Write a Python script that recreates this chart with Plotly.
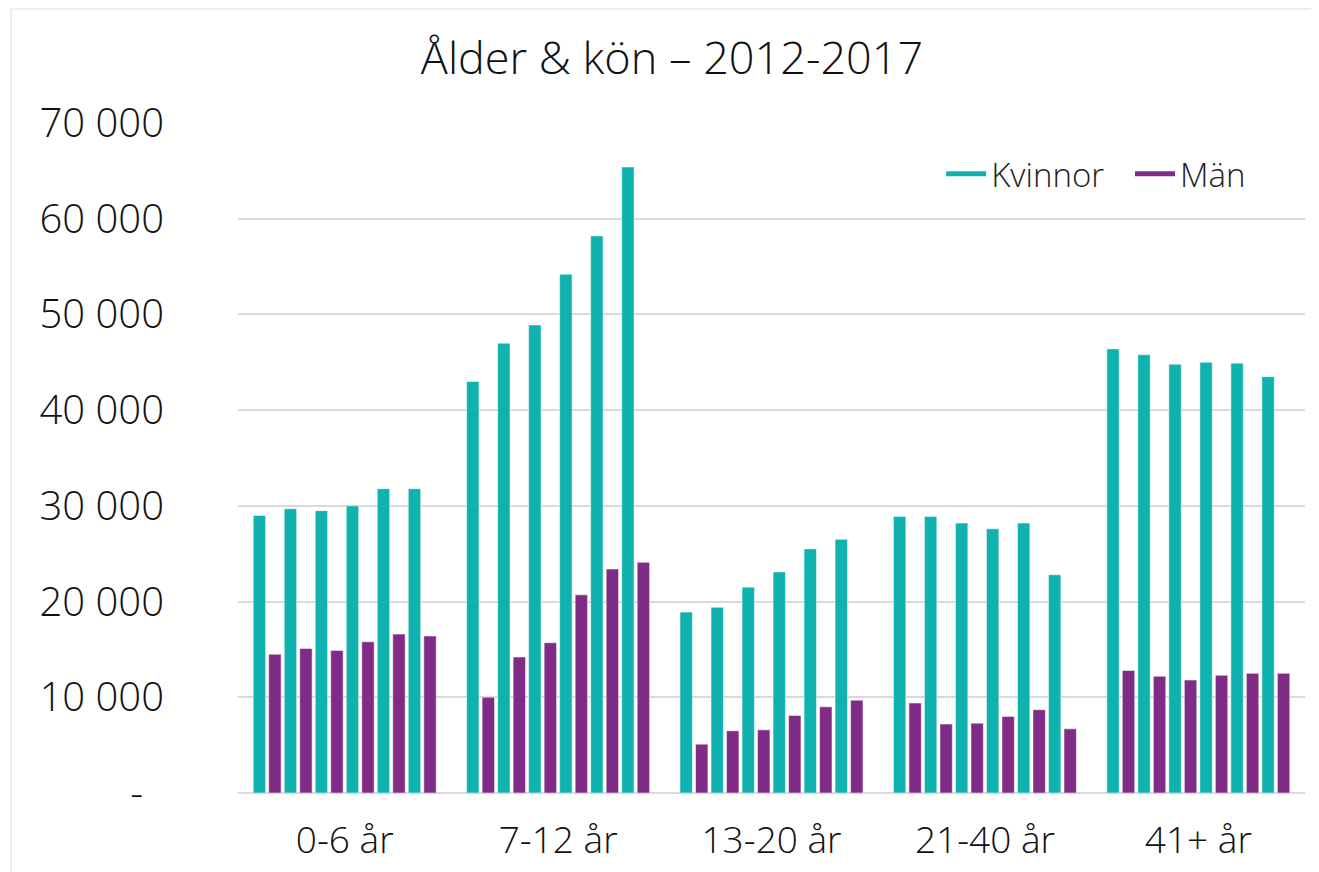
import plotly.graph_objects as go

categories = ["0-6 år", "7-12 år", "13-20 år", "21-40 år", "41+ år"]
years = ["2012", "2013", "2014", "2015", "2016", "2017"]

# values per year (rows) across categories (columns)
kvinnor = {
    "2012": [29000, 43000, 18900, 28900, 46400],
    "2013": [29700, 47000, 19400, 28900, 45800],
    "2014": [29500, 48900, 21500, 28200, 44800],
    "2015": [30000, 54200, 23100, 27600, 45000],
    "2016": [31800, 58200, 25500, 28200, 44900],
    "2017": [31800, 65400, 26500, 22800, 43500],
}
man = {
    "2012": [14500, 10000, 5100, 9400, 12800],
    "2013": [15100, 14200, 6500, 7200, 12200],
    "2014": [14900, 15700, 6600, 7300, 11800],
    "2015": [15800, 20700, 8100, 8000, 12300],
    "2016": [16600, 23400, 9000, 8700, 12500],
    "2017": [16400, 24100, 9700, 6700, 12500],
}

tick_vals = [0, 10000, 20000, 30000, 40000, 50000, 60000, 70000]
tick_text = ["-" + "\u00a0\u00a0", "10 000", "20 000", "30 000", "40 000", "50 000", "60 000", "70 000"]

TEAL = "#10B2B0"
PURPLE = "#7F2C87"
FONT = "Open Sans"

fig = go.Figure()
for yr in years:
    fig.add_trace(go.Bar(x=categories, y=kvinnor[yr], name="Kvinnor " + yr,
                         marker=dict(color=TEAL, line=dict(color="rgba(255,255,255,0.5)", width=1)),
                         showlegend=False))
    fig.add_trace(go.Bar(x=categories, y=man[yr], name="Män " + yr,
                         marker=dict(color=PURPLE, line=dict(color="rgba(255,255,255,0.5)", width=1)),
                         showlegend=False))

# legend entries as lines
fig.add_trace(go.Scatter(x=[None], y=[None], mode="lines", name="Kvinnor",
                         line=dict(color=TEAL, width=5), legend="legend"))
fig.add_trace(go.Scatter(x=[None], y=[None], mode="lines", name="Män",
                         line=dict(color=PURPLE, width=5), legend="legend2"))

legend_style = dict(orientation="h", y=0.924, xanchor="left", yanchor="middle",
                    font=dict(family=FONT, size=33, color="#222222", weight=300),
                    bgcolor="rgba(0,0,0,0)", itemwidth=40)

fig.update_layout(
    width=1311, height=864,
    paper_bgcolor="white", plot_bgcolor="white",
    margin=dict(l=230, r=14, t=115, b=79),
    barmode="group", bargap=0.128, bargroupgap=0.2,
    font=dict(family=FONT, color="#111111", weight=300),
    title=dict(text="Ålder & kön – 2012-2017", x=664 / 1311, xref="container", xanchor="center",
               y=1 - 50 / 864, yref="container", yanchor="middle",
               font=dict(family=FONT, size=45, color="#111111", weight=300)),
    legend=dict(x=0.659, **legend_style),
    legend2=dict(x=0.836, **legend_style),
    showlegend=True,
    shapes=[dict(type="rect", xref="paper", yref="paper",
                 x0=-0.2127, x1=1.02, y0=-0.2, y1=1.170,
                 line=dict(color="#eeeeee", width=2), fillcolor="rgba(0,0,0,0)", layer="below")],
)
fig.update_yaxes(range=[0, 70000], tickvals=tick_vals, ticktext=tick_text,
                 showgrid=True, gridcolor="#d9d9d9", gridwidth=2,
                 zeroline=True, zerolinecolor="#d9d9d9", zerolinewidth=2,
                 showline=False, ticks="", ticklabelstandoff=73, automargin=False,
                 tickfont=dict(family=FONT, size=40, color="#111111", weight=300))
fig.update_xaxes(showgrid=False, showline=False, ticks="", ticklabelstandoff=22, automargin=False,
                 tickfont=dict(family=FONT, size=37, color="#111111", weight=300))

fig.write_html("out.html")
